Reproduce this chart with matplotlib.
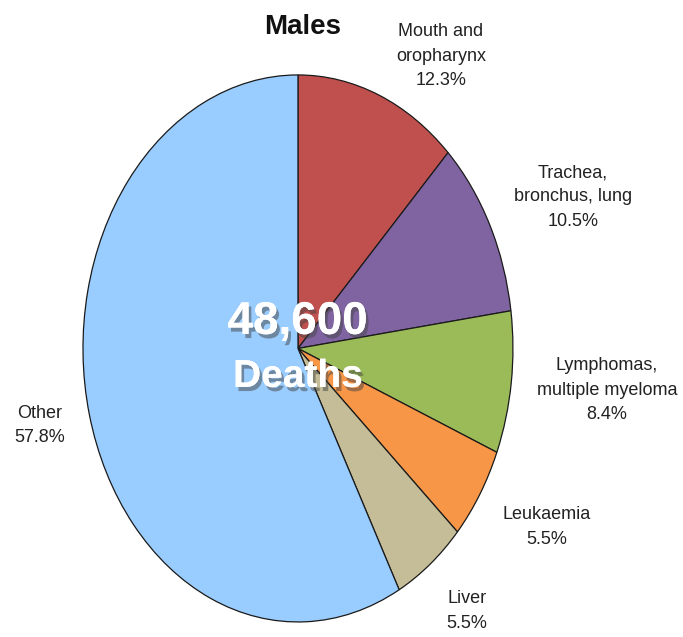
import matplotlib.pyplot as plt
import matplotlib.patheffects as pe

plt.rcParams['font.family'] = ['Liberation Sans', 'DejaVu Sans']

# Cancer deaths, males (share of total)
causes = ['Mouth and\noropharynx', 'Trachea,\nbronchus, lung', 'Lymphomas,\nmultiple myeloma',
          'Leukaemia', 'Liver', 'Other']
shares = [12.3, 10.5, 8.4, 5.5, 5.5, 57.8]
colours = ['#C0504D', '#8064A2', '#9BBB59', '#F79646', '#C4BD97', '#99CCFF']
total_deaths = '48,600'

# where each label sits (data units, pie radius = 1)
label_pos = [(0.665, 1.069), (1.279, 0.554), (1.437, -0.152),
             (1.158, -0.653), (0.786, -0.960), (-1.200, -0.283)]

fig = plt.figure(figsize=(6.83, 6.37), dpi=100)
ax = fig.add_axes([0, 0, 1, 1])

ax.pie(shares, colors=colours, startangle=90, counterclock=False,
       wedgeprops=dict(edgecolor='#1a1a1a', linewidth=0.9))

# stretch the pie into an upright ellipse
ax.set_aspect('auto')
ax.set_xlim(-1.386, 1.791)
ax.set_ylim(-1.055, 1.274)
ax.axis('off')

for name, val, (x, y) in zip(causes, shares, label_pos):
    ax.text(x, y, f'{name}\n{val}%', ha='center', va='center',
            fontsize=13, color='#222222', linespacing=1.55)

ax.text(0.023, 1.175, 'Males', ha='center', va='center',
        fontsize=20, fontweight='bold', color='#111111')

shadow = [pe.withSimplePatchShadow(offset=(2, -3), shadow_rgbFace='#444444', alpha=0.5),
          pe.Normal()]
ax.text(0.0, 0.097, total_deaths, ha='center', va='center', fontsize=33,
        fontweight='bold', color='white', path_effects=shadow)
ax.text(0.0, -0.104, 'Deaths', ha='center', va='center', fontsize=28,
        fontweight='bold', color='white', path_effects=shadow)

fig.savefig('out.png', dpi=100)
